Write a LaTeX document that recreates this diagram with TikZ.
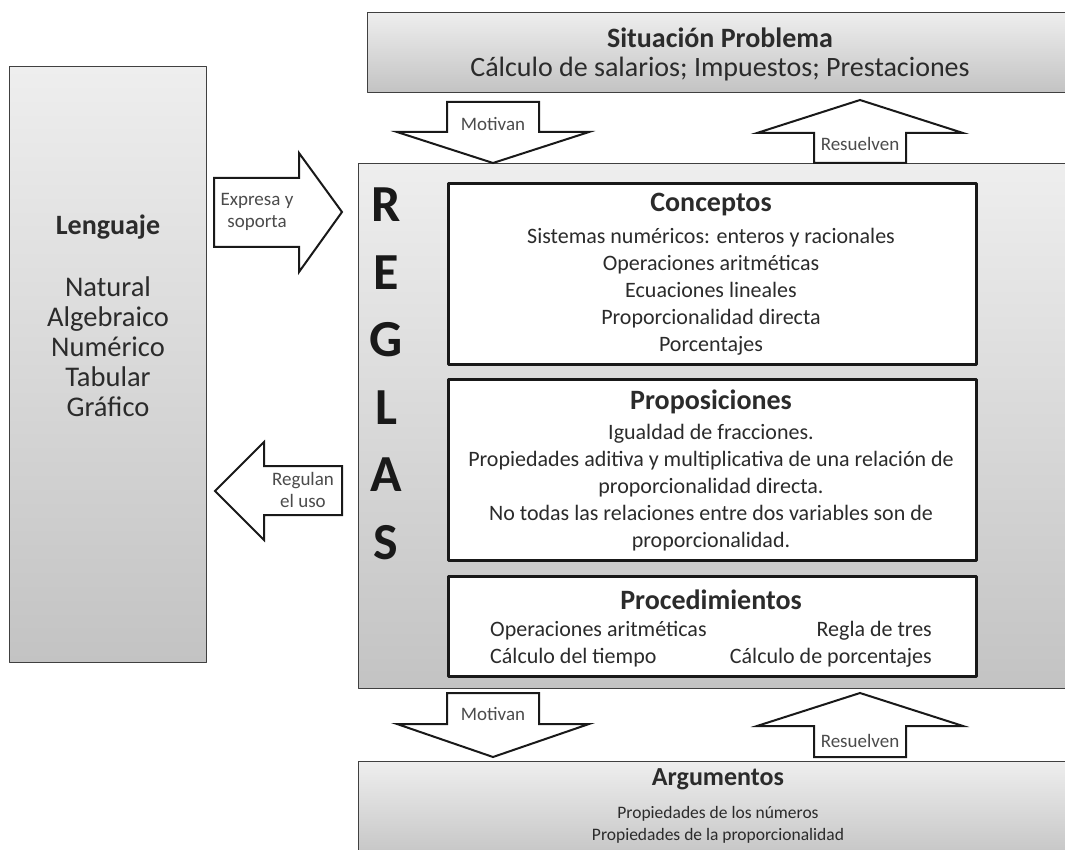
\documentclass[tikz,border=0pt]{standalone}
\usepackage{fontspec}
\setmainfont{Carlito}
\definecolor{boxtop}{HTML}{EEEEEE}
\definecolor{boxbot}{HTML}{C3C3C3}
\definecolor{txt}{HTML}{2B2B2B}
\tikzset{
  graybox/.style={draw=black!75, line width=1.2pt, top color=boxtop, bottom color=boxbot, anchor=north west, inner sep=0pt},
  rulebox/.style={draw=black!90, line width=2.6pt, fill=white, anchor=north west, inner sep=0pt},
  blockarrow/.style={draw=black!90, line width=2pt, fill=white, line join=miter},
  arrowlabel/.style={font=\fontsize{19}{22}\selectfont, text=txt!85, align=center, inner sep=0pt},
  boxtitle/.style={font=\fontsize{28}{32}\selectfont\bfseries, text=txt, inner sep=0pt},
  boxitems/.style={font=\fontsize{22}{27}\selectfont, text=txt, align=center, inner sep=0pt},
  letra/.style={font=\fontsize{52}{60}\selectfont\bfseries, text=black!90, inner sep=0pt}
}
\begin{document}
\begin{tikzpicture}[x=1pt, y=-1pt, line join=round]
  \useasboundingbox (0,0) rectangle (1065,850);
  \clip (0,0) rectangle (1065,850);
  % cajas grises
  \node[graybox, minimum width=708pt, minimum height=80pt] (sit) at (367,12) {};
  \node[graybox, minimum width=197pt, minimum height=596pt] (leng) at (9,66) {};
  \node[graybox, minimum width=717pt, minimum height=525pt] (reglas) at (358,163) {};
  \node[graybox, minimum width=760pt, minimum height=100pt] (arg) at (358,761) {};
  % cajas blancas
  \node[rulebox, minimum width=528pt, minimum height=181pt] (conc) at (447,182) {};
  \node[rulebox, minimum width=528pt, minimum height=181pt] (prop) at (447,378) {};
  \node[rulebox, minimum width=528pt, minimum height=100pt] (proc) at (447,575) {};
  % textos
  \node[boxtitle] (sitT) at (720,38) {Situación Problema};
  \node[boxitems, font=\fontsize{28}{32}\selectfont] (sitI) at (720,69) {Cálculo de salarios; Impuestos; Prestaciones};
  \node[boxtitle] (lengT) at (108,227) {Lenguaje};
  \node[boxitems, font=\fontsize{28.5}{30}\selectfont] (lengI) at (108,347) {Natural\\Algebraico\\Numérico\\Tabular\\Gráfico};
  \node[boxtitle] (concT) at (711,205) {Conceptos};
  \node[boxitems] (concI) at (711,292) {Sistemas numéricos: enteros y racionales\\Operaciones aritméticas\\Ecuaciones lineales\\Proporcionalidad directa\\Porcentajes};
  \node[boxtitle] (propT) at (711,402) {Proposiciones};
  \node[boxitems] (propI) at (711,488) {Igualdad de fracciones.\\Propiedades aditiva y multiplicativa de una relación de\\proporcionalidad directa.\\No todas las relaciones entre dos variables son de\\proporcionalidad.};
  \node[boxtitle] (procT) at (711,600) {Procedimientos};
  \node[boxitems, align=left, anchor=west] (procA) at (490,644) {Operaciones aritméticas\\Cálculo del tiempo};
  \node[boxitems, align=right, anchor=east] (procB) at (932,644) {Regla de tres\\Cálculo de porcentajes};
  \node[boxtitle, font=\fontsize{26}{30}\selectfont\bfseries] (argT) at (718,779) {Argumentos};
  \node[boxitems, font=\fontsize{17.5}{21.5}\selectfont] (argI) at (718,825) {Propiedades de los números\\Propiedades de la proporcionalidad};
  % REGLAS
  \foreach \l [count=\i] in {R,E,G,L,A,S}
    \node[letra] (l\i) at (386,{205+67.5*(\i-1)}) {\l};
  % flechas
  \draw[blockarrow] (447,102) -- (539,102) -- (539,132) -- (589,132) -- (493,163) -- (397,132) -- (447,132) -- cycle;
  \node[arrowlabel] (mot1) at (493,124) {Motivan};
  \draw[blockarrow] (860,100) -- (963,133) -- (906,133) -- (906,163) -- (814,163) -- (814,133) -- (757,133) -- cycle;
  \node[arrowlabel] (res1) at (860,144) {Resuelven};
  \draw[blockarrow] (447,693) -- (539,693) -- (539,724) -- (589,724) -- (493,757) -- (397,724) -- (447,724) -- cycle;
  \node[arrowlabel] (mot2) at (493,714) {Motivan};
  \draw[blockarrow] (860,693) -- (963,726) -- (906,726) -- (906,757) -- (814,757) -- (814,726) -- (757,726) -- cycle;
  \node[arrowlabel] (res2) at (860,741) {Resuelven};
  \draw[blockarrow] (214,178) -- (299,178) -- (299,153) -- (342,212) -- (299,272) -- (299,247) -- (214,247) -- cycle;
  \node[arrowlabel] (expr) at (257,212) {Expresa y\\soporta};
  \draw[blockarrow] (342,466) -- (264,466) -- (264,442) -- (215,491) -- (264,540) -- (264,515) -- (342,515) -- cycle;
  \node[arrowlabel] (regu) at (303,490) {Regulan\\el uso};
\end{tikzpicture}
\end{document}
